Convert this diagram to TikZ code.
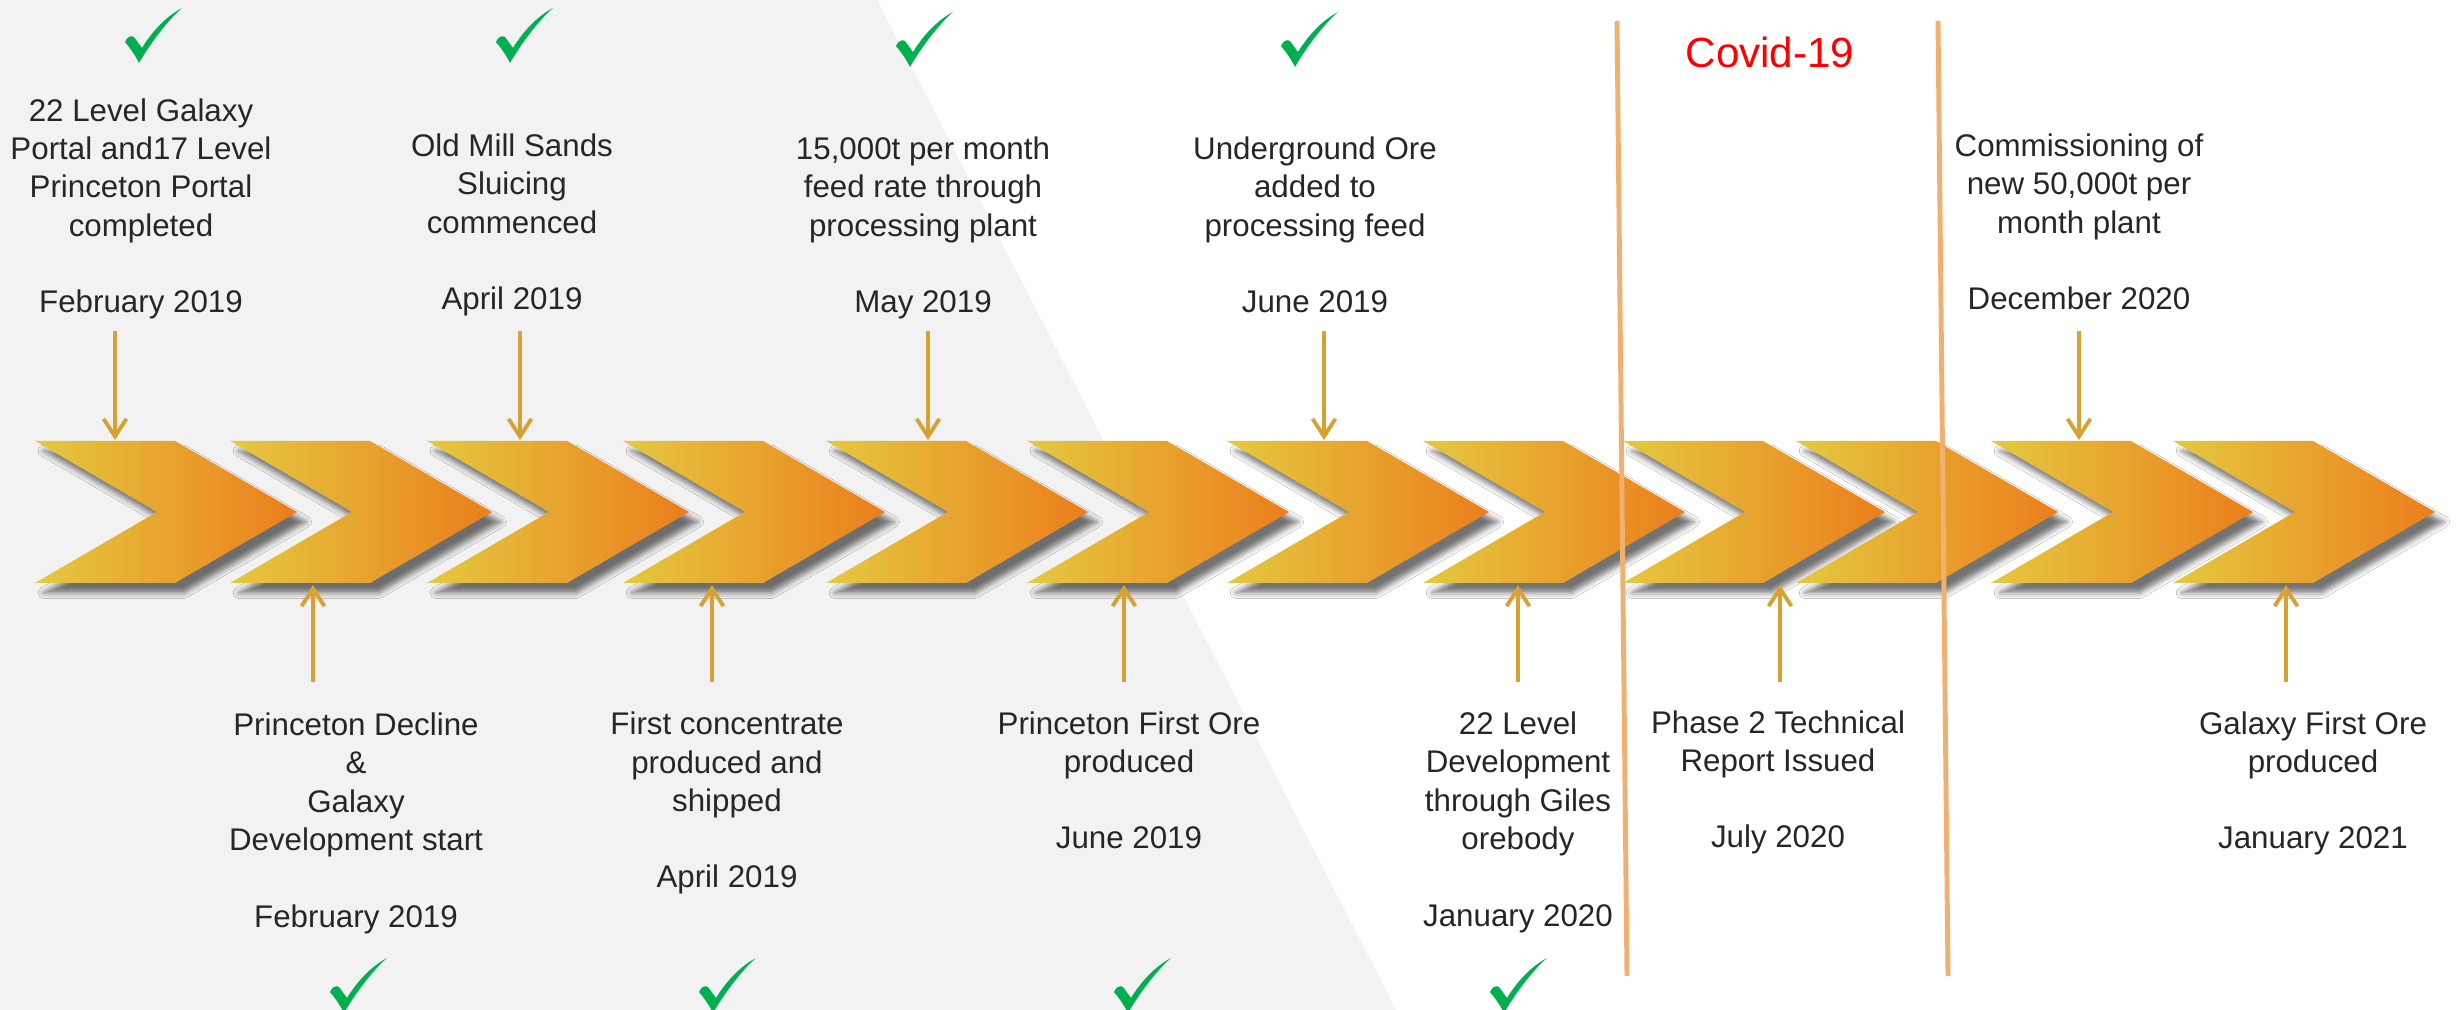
\documentclass[tikz,border=0pt]{standalone}
\usepackage{fontspec}
\setmainfont{Liberation Sans}
\usetikzlibrary{arrows.meta,shadows.blur}

\definecolor{chevyellow}{RGB}{228,201,64}
\definecolor{chevorange}{RGB}{235,126,28}
\definecolor{pingold}{RGB}{214,162,50}
\definecolor{covidline}{RGB}{240,176,112}
\definecolor{tickgreen}{RGB}{0,176,80}
\definecolor{panelgray}{RGB}{242,242,242}
\definecolor{labeltext}{RGB}{38,38,38}

% green tick mark, #1/#2 = top left corner
\newcommand{\greentick}[2]{%
  \fill[tickgreen, shift={(#1,#2)}]
    (0,34) .. controls (2,29) and (6,27) .. (9,29) -- (17,40)
    .. controls (28,22) and (42,8) .. (57,0)
    .. controls (42,13) and (25,36) .. (14,55)
    .. controls (10,47) and (5,40) .. (0,34) -- cycle;}

\begin{document}
\begin{tikzpicture}[x=0.01cm, y=-0.01cm,
    chevron/.style={left color=chevyellow, right color=chevorange,
      blur shadow={shadow xshift=2.5pt, shadow yshift=-2.8pt,
        shadow blur radius=1.6pt, shadow opacity=55}},
    eventarrow/.style={draw=pingold, line width=1.1pt,
      -{Straight Barb[length=5pt,width=6.5pt]}},
    milestone/.style={align=center, inner sep=0pt, anchor=base,
      text=labeltext, font=\fontsize{8.9pt}{10.9pt}\selectfont},
    covidbar/.style={draw=covidline, line width=1.4pt}]

    \useasboundingbox (0,0) rectangle (2463,1010);

    % White page with the gray panel on the left
    \fill[white] (0,0) rectangle (2463,1010);
    \fill[panelgray] (0,0) -- (877,0) -- (1396,1010) -- (0,1010) -- cycle;

    % --- Chevrons ---
    \foreach \x in {35,230,427,623,826,1027,1227,1423,1623,1796,1991,2173}
      \shade[chevron] (\x,441) -- ++(140,0) -- ++(122,71) -- ++(-122,71)
        -- ++(-140,0) -- ++(122,-71) -- cycle;

    % Covid-19 period
    \draw[covidbar] (1617,21) -- (1627,976);
    \draw[covidbar] (1938,21) -- (1948,976);
    \node[text=red, anchor=base, inner sep=0pt,
      font=\fontsize{12pt}{14pt}\selectfont] (covid) at (1770,68) {Covid-19};

    % --- Milestones above (base = date line) ---
    \node[milestone] (t1) at (141,313) {22 Level Galaxy\\Portal and17 Level\\Princeton Portal\\completed\\[10.9pt]February 2019};
    \node[milestone] (t2) at (512,310) {Old Mill Sands\\Sluicing\\commenced\\[10.9pt]April 2019};
    \node[milestone] (t3) at (923,313) {15,000t per month\\feed rate through\\processing plant\\[10.9pt]May 2019};
    \node[milestone] (t4) at (1315,313) {Underground Ore\\added to\\processing feed\\[10.9pt]June 2019};
    \node[milestone] (t5) at (2079,310) {Commissioning of\\new 50,000t per\\month plant\\[10.9pt]December 2020};

    % --- Milestones below ---
    \node[milestone] (b1) at (356,927) {Princeton Decline\\\&\\Galaxy\\Development start\\[10.9pt]February 2019};
    \node[milestone] (b2) at (727,888) {First concentrate\\produced and\\shipped\\[10.9pt]April 2019};
    \node[milestone] (b3) at (1129,849) {Princeton First Ore\\produced\\[10.9pt]June 2019};
    \node[milestone] (b4) at (1518,926) {22 Level\\Development\\through Giles\\orebody\\[10.9pt]January 2020};
    \node[milestone] (b5) at (1778,848) {Phase 2 Technical\\Report Issued\\[10.9pt]July 2020};
    \node[milestone] (b6) at (2313,849) {Galaxy First Ore\\produced\\[10.9pt]January 2021};

    % Arrows down onto the chevrons
    \foreach \x [count=\i] in {115,520,928,1324,2079} {
      \coordinate (tp\i) at (\x,331);
      \coordinate (tc\i) at (\x,440);
      \draw[eventarrow] (tp\i) -- (tc\i);
    }
    % Arrows up onto the chevrons
    \foreach \x [count=\i] in {313,712,1124,1518,1780,2286} {
      \coordinate (bp\i) at (\x,682);
      \coordinate (bc\i) at (\x,585);
      \draw[eventarrow] (bp\i) -- (bc\i);
    }

    % Ticks for the finished milestones
    \foreach \x/\y in {125/8, 496/8, 896/12, 1281/12, 330/958, 699/958, 1114/958, 1490/958} {
      \greentick{\x}{\y}
    }

\end{tikzpicture}
\end{document}
